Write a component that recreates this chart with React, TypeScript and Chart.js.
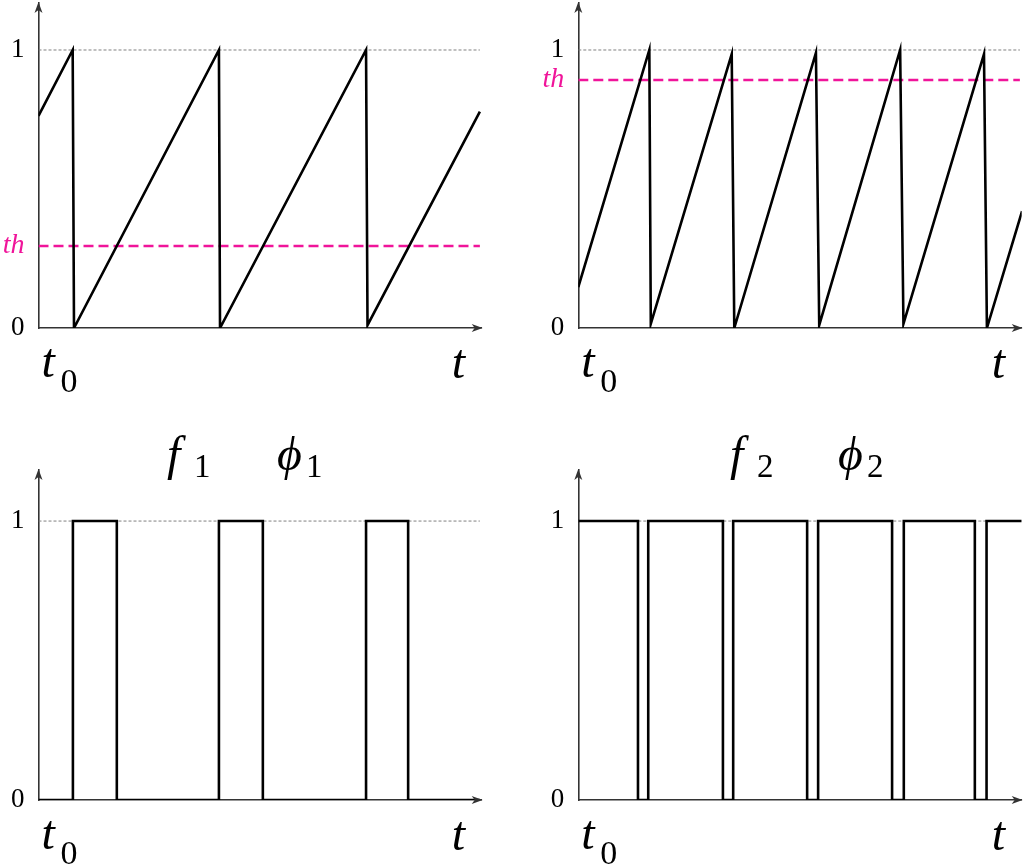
import React, { useEffect, useRef } from "react";
import { Chart, registerables } from "chart.js";

Chart.register(...registerables);

const SERIF = '"Liberation Serif", "DejaVu Serif", serif';
const MAGENTA = "#f0149a";
const AXIS = "#333333";

// Top-left: sawtooth with low threshold
const SAW1_T = [0, 0.934, 0.97, 4.93, 4.96, 8.95, 8.99, 12.06];
const SAW1_V = [0.763, 1, 0, 1, 0, 1, 0.01, 0.778];
const TH1 = 0.295;

// Top-right: faster sawtooth with high threshold
const SAW2_T = [0, 1.94, 1.98, 4.19, 4.26, 6.49, 6.58, 8.79, 8.88, 11.08, 11.16, 12.12];
const SAW2_V = [0.147, 1, 0.015, 0.985, 0, 0.99, 0.01, 1, 0.015, 0.985, 0, 0.42];
const TH2 = 0.892;

// Bottom-left: pulse train (value holds from T[i] to T[i+1])
const PULSE1_T = [0, 0.94, 2.14, 4.93, 6.13, 8.95, 10.1, 12.06];
const PULSE1_V = [0, 1, 0, 1, 0, 1, 0, 0];

// Bottom-right: pulse train
const PULSE2_T = [0, 1.63, 1.91, 3.95, 4.23, 6.25, 6.55, 8.57, 8.89, 10.83, 11.15, 12.11];
const PULSE2_V = [1, 0, 1, 0, 1, 0, 1, 0, 1, 0, 1, 1];

const X_MAX = 12.11;
const REF_END = 12.06;
const Y_TICKS_BASE = [0, 1];

type Title = { base: string; sub: string; x: number; subX: number };

type Panel = {
  left: number;
  top: number;
  width: number;
  height: number;
  padTop: number;
  padBottom: number;
  padRight: number;
  yWidth: number;
  yMax: number;
  t: number[];
  v: number[];
  stepped: boolean;
  th: number | null;
  titles: Title[];
  titleBaseline: number;
};

const PANELS: Panel[] = [
  {
    left: 0, top: 0, width: 512, height: 400,
    padTop: 3, padBottom: 72, padRight: 30.3, yWidth: 38.5, yMax: 1.169,
    t: SAW1_T, v: SAW1_V, stepped: false, th: TH1, titles: [], titleBaseline: 0,
  },
  {
    left: 512, top: 0, width: 512, height: 400,
    padTop: 3, padBottom: 72, padRight: 2.3, yWidth: 66.3, yMax: 1.169,
    t: SAW2_T, v: SAW2_V, stepped: false, th: TH2, titles: [], titleBaseline: 0,
  },
  {
    left: 0, top: 400, width: 512, height: 464,
    padTop: 70, padBottom: 64, padRight: 30.3, yWidth: 38.5, yMax: 1.183,
    t: PULSE1_T, v: PULSE1_V, stepped: true, th: null,
    titles: [
      { base: "f", sub: "1", x: 167, subX: 194 },
      { base: "\u03D5", sub: "1", x: 277, subX: 306 },
    ],
    titleBaseline: 70,
  },
  {
    left: 512, top: 400, width: 512, height: 464,
    padTop: 70, padBottom: 64, padRight: 2.3, yWidth: 66.3, yMax: 1.183,
    t: PULSE2_T, v: PULSE2_V, stepped: true, th: null,
    titles: [
      { base: "f", sub: "2", x: 218, subX: 245 },
      { base: "\u03D5", sub: "2", x: 326, subX: 355 },
    ],
    titleBaseline: 70,
  },
];

function drawArrowUp(ctx: CanvasRenderingContext2D, x: number, y: number) {
  ctx.beginPath();
  ctx.moveTo(x, y);
  ctx.lineTo(x - 4, y + 11);
  ctx.lineTo(x, y + 8);
  ctx.lineTo(x + 4, y + 11);
  ctx.closePath();
  ctx.fill();
}

function drawArrowRight(ctx: CanvasRenderingContext2D, x: number, y: number) {
  ctx.beginPath();
  ctx.moveTo(x, y);
  ctx.lineTo(x - 11, y - 4);
  ctx.lineTo(x - 8, y);
  ctx.lineTo(x - 11, y + 4);
  ctx.closePath();
  ctx.fill();
}

function makeDecor(p: Panel) {
  return {
    id: "decor",
    afterDraw(chart: any) {
      const ctx: CanvasRenderingContext2D = chart.ctx;
      const xs = chart.scales.x;
      const ys = chart.scales.y;
      const L = xs.getPixelForValue(0);
      const R = xs.getPixelForValue(X_MAX);
      const B = ys.getPixelForValue(0);
      const T = ys.getPixelForValue(p.yMax);
      ctx.save();
      ctx.fillStyle = AXIS;
      drawArrowUp(ctx, L, T - 1);
      drawArrowRight(ctx, R + 1, B);

      ctx.fillStyle = "#000";
      ctx.textAlign = "left";
      ctx.textBaseline = "alphabetic";
      // t_0 and t under the axis
      ctx.font = `italic 48px ${SERIF}`;
      ctx.fillText("t", L + 3, B + 49);
      ctx.fillText("t", R - 30, B + 50);
      ctx.font = `34px ${SERIF}`;
      ctx.fillText("0", L + 22, B + 64);

      // titles
      for (const ti of p.titles) {
        ctx.font = `italic 48px ${SERIF}`;
        ctx.fillText(ti.base, ti.x, p.titleBaseline);
        ctx.font = `33px ${SERIF}`;
        ctx.fillText(ti.sub, ti.subX, p.titleBaseline + 7);
      }
      ctx.restore();
    },
  };
}

function buildConfig(p: Panel): any {
  const signal = p.t.map((x, i) => ({ x, y: p.v[i] }));
  const ref = [{ x: 0, y: 1 }, { x: REF_END, y: 1 }];
  const datasets: any[] = [
    {
      label: "signal",
      data: signal,
      borderColor: "#000",
      borderWidth: 2.6,
      pointRadius: 0,
      stepped: p.stepped,
      tension: 0,
      fill: false,
      borderJoinStyle: "miter",
    },
  ];
  if (p.th !== null) {
    datasets.push({
      label: "th",
      data: [{ x: 0, y: p.th }, { x: REF_END, y: p.th }],
      borderColor: MAGENTA,
      borderWidth: 2.6,
      borderDash: [10, 5],
      pointRadius: 0,
      fill: false,
    });
  }
  datasets.push({
    label: "ref",
    data: ref,
    borderColor: "#808080",
    borderWidth: 1,
    borderDash: [3, 2],
    pointRadius: 0,
    fill: false,
  });

  const tickVals = p.th !== null ? [0, p.th, 1] : Y_TICKS_BASE;

  return {
    type: "line",
    data: { datasets },
    options: {
      animation: false,
      responsive: false,
      devicePixelRatio: 1,
      layout: {
        autoPadding: false,
        padding: { left: 0, top: p.padTop, bottom: p.padBottom, right: p.padRight },
      },
      plugins: {
        legend: { display: false },
        tooltip: { enabled: false },
        title: { display: false },
      },
      scales: {
        x: {
          type: "linear",
          min: 0,
          max: X_MAX,
          grid: { display: false, drawTicks: false },
          ticks: { display: false },
          border: { display: true, color: AXIS, width: 1.6 },
          afterFit: (scale: any) => {
            scale.paddingLeft = 0;
            scale.paddingRight = 0;
          },
        },
        y: {
          type: "linear",
          min: 0,
          max: p.yMax,
          grid: { display: false, drawTicks: false },
          border: { display: true, color: AXIS, width: 1.6 },
          afterBuildTicks: (scale: any) => {
            scale.ticks = tickVals.map((value) => ({ value }));
          },
          afterFit: (scale: any) => {
            scale.width = p.yWidth;
            scale.paddingTop = 0;
            scale.paddingBottom = 0;
          },
          ticks: {
            autoSkip: false,
            padding: 14,
            callback: (value: number) =>
              p.th !== null && Math.abs(value - p.th) < 1e-6 ? "th" : String(value),
            color: (c: any) =>
              p.th !== null && c.tick && Math.abs(c.tick.value - p.th) < 1e-6 ? MAGENTA : "#000",
            font: (c: any) =>
              p.th !== null && c.tick && Math.abs(c.tick.value - p.th) < 1e-6
                ? { family: SERIF, size: 28, style: "italic" }
                : { family: SERIF, size: 27 },
          },
        },
      },
    },
    plugins: [makeDecor(p)],
  };
}

function PanelChart({ p }: { p: Panel }) {
  const ref = useRef<HTMLCanvasElement | null>(null);
  useEffect(() => {
    if (!ref.current) return;
    const chart = new Chart(ref.current, buildConfig(p));
    return () => chart.destroy();
  }, [p]);
  return (
    <canvas
      ref={ref}
      width={p.width}
      height={p.height}
      style={{
        position: "absolute",
        left: p.left,
        top: p.top,
        width: p.width,
        height: p.height,
        display: "block",
      }}
    />
  );
}

export default function App() {
  return (
    <div
      style={{
        position: "absolute",
        left: 0,
        top: 0,
        width: 1024,
        height: 864,
        background: "#fff",
        overflow: "hidden",
      }}
    >
      {PANELS.map((p, i) => (
        <PanelChart key={i} p={p} />
      ))}
    </div>
  );
}
